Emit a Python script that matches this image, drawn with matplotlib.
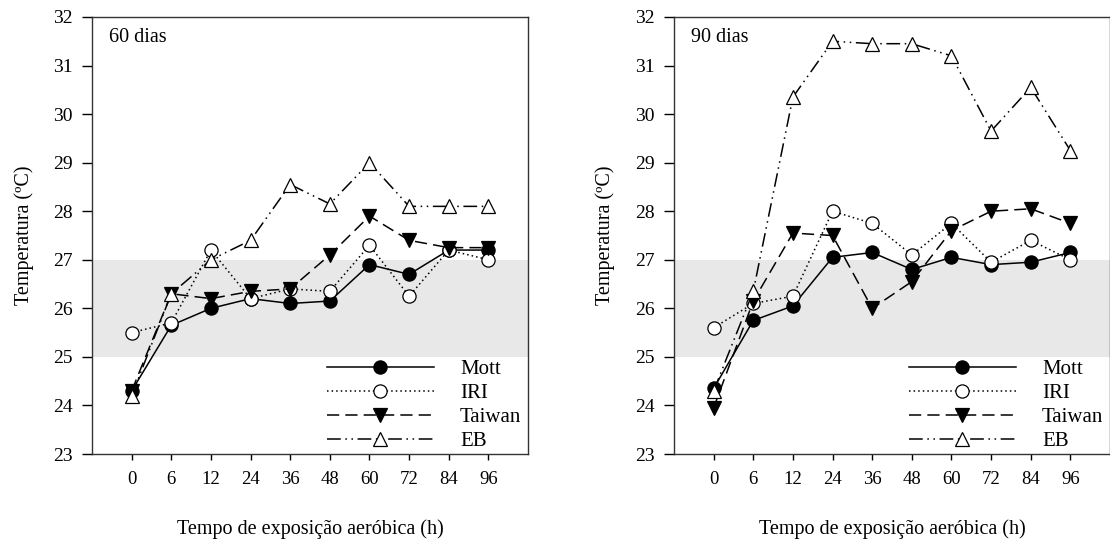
import matplotlib
matplotlib.use("Agg")
import matplotlib.pyplot as plt

plt.rcParams["font.family"] = ["Liberation Serif", "DejaVu Serif"]

hours = ["0", "6", "12", "24", "36", "48", "60", "72", "84", "96"]
series_names = ["Mott", "IRI", "Taiwan", "EB"]

# 60 dias
mott_60 = [24.3, 25.65, 26.0, 26.2, 26.1, 26.15, 26.9, 26.7, 27.2, 27.2]
iri_60 = [25.5, 25.7, 27.2, 26.2, 26.4, 26.35, 27.3, 26.25, 27.2, 27.0]
taiwan_60 = [24.3, 26.3, 26.2, 26.35, 26.4, 27.1, 27.9, 27.4, 27.25, 27.25]
eb_60 = [24.2, 26.3, 27.0, 27.4, 28.55, 28.15, 29.0, 28.1, 28.1, 28.1]

# 90 dias
mott_90 = [24.35, 25.75, 26.05, 27.05, 27.15, 26.8, 27.05, 26.9, 26.95, 27.15]
iri_90 = [25.6, 26.1, 26.25, 28.0, 27.75, 27.1, 27.75, 26.95, 27.4, 27.0]
taiwan_90 = [23.95, 26.15, 27.55, 27.5, 26.0, 26.55, 27.6, 28.0, 28.05, 27.75]
eb_90 = [24.3, 26.35, 30.35, 31.5, 31.45, 31.45, 31.2, 29.65, 30.55, 29.25]

band_low, band_high = 25, 27

styles = [
    dict(linestyle="-", marker="o", markerfacecolor="black"),
    dict(linestyle=(0, (1, 2)), marker="o", markerfacecolor="white"),
    dict(linestyle=(0, (8, 4)), marker="v", markerfacecolor="black"),
    dict(linestyle=(0, (9, 3, 1, 3, 1, 3)), marker="^", markerfacecolor="white"),
]


def draw_panel(ax, data, title):
    x = range(len(hours))
    ax.axhspan(band_low, band_high, color="#e8e8e8", zorder=0, lw=0)
    for name, vals, st in zip(series_names, data, styles):
        ax.plot(x, vals, color="black", lw=1.1, markersize=9.5,
                markeredgecolor="black", markeredgewidth=0.9, label=name, **st)
    ax.set_xlim(-1, 10)
    ax.set_ylim(23, 32)
    ax.set_yticks(range(23, 33))
    ax.set_xticks(list(x))
    ax.set_xticklabels(hours)
    ax.tick_params(axis="y", direction="out", length=7, width=1, pad=7, labelsize=14)
    ax.tick_params(axis="x", direction="out", length=4.5, width=1, pad=8, labelsize=13.5)
    for sp in ax.spines.values():
        sp.set_color("#333333")
        sp.set_linewidth(1.0)
    ax.set_ylabel("Temperatura (ºC)", fontsize=14.5, labelpad=14)
    ax.set_xlabel("Tempo de exposição aeróbica (h)", fontsize=14.5, labelpad=22)
    ax.text(0.04, 0.952, title, transform=ax.transAxes, fontsize=14.5,
            va="center", ha="left")
    ax.legend(loc="lower left", bbox_to_anchor=(0.5, -0.032), frameon=False,
              fontsize=15, handlelength=5.15, handletextpad=1.25,
              labelspacing=0.22, borderpad=0.3)


fig = plt.figure(figsize=(11.1, 5.41), dpi=100)
ax1 = fig.add_axes([0.0829, 0.1608, 0.3928, 0.8078])
ax2 = fig.add_axes([0.6072, 0.1608, 0.3928, 0.8078])

draw_panel(ax1, [mott_60, iri_60, taiwan_60, eb_60], "60 dias")
draw_panel(ax2, [mott_90, iri_90, taiwan_90, eb_90], "90 dias")

fig.savefig("out.png", dpi=100)
